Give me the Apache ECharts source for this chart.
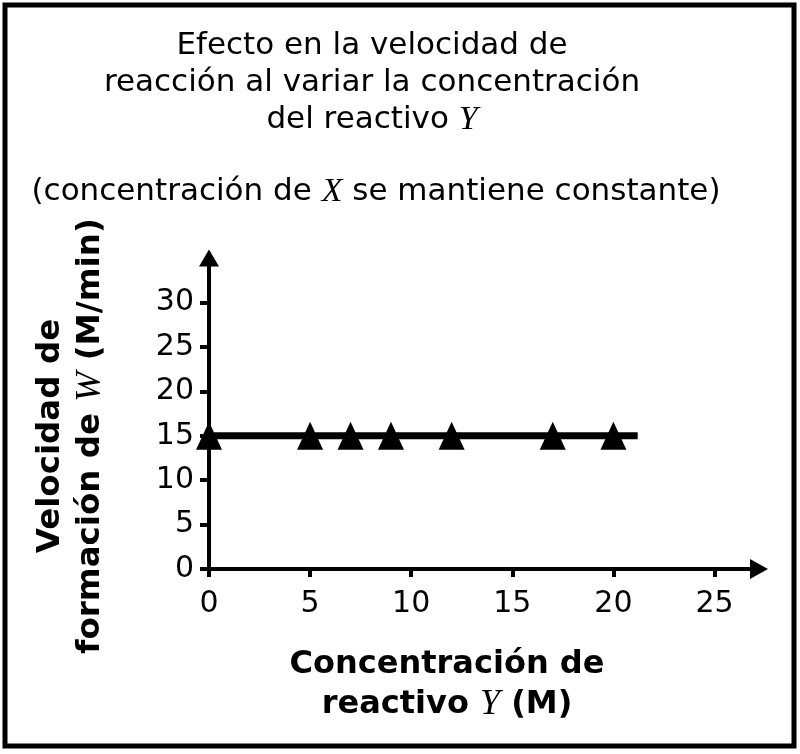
<!DOCTYPE html>
<html>
<head>
<meta charset="utf-8">
<script src="https://cdn.jsdelivr.net/npm/echarts@6/dist/echarts.min.js"></script>
<style>
  html, body { margin: 0; padding: 0; background: #fff; }
  #chart { width: 800px; height: 754px; }
</style>
</head>
<body>
<div id="chart"></div>
<script>
// datos
var lineX = [0, 21.2];
var lineY = [15, 15];
var pointsX = [0, 5, 7, 9, 12, 17, 20];
var pointsY = [15, 15, 15, 15, 15, 15, 15];
var xTicks = [0, 5, 10, 15, 20, 25];
var yTicks = [0, 5, 10, 15, 20, 25, 30];

var font = 'DejaVu Sans';
var italic = { fontFamily: 'Liberation Serif', fontStyle: 'italic', fontSize: 34 };
var italicBold = { fontFamily: 'Liberation Serif', fontStyle: 'italic', fontSize: 36 };

var myChart = echarts.init(document.getElementById('chart'));

option = {
    backgroundColor: '#fff',
    animation: false,
    grid: {
        left: 209,
        right: 41,
        top: 258,
        bottom: 185
    },
    xAxis: {
        type: 'value',
        min: 0,
        max: 27.2,
        splitLine: { show: false },
        axisLine: {
            show: true,
            symbol: ['none', 'triangle'],
            symbolSize: [20, 18],
            lineStyle: { color: '#000', width: 4 }
        },
        axisTick: {
            show: true,
            customValues: xTicks,
            length: 8,
            lineStyle: { color: '#000', width: 4 }
        },
        axisLabel: {
            customValues: xTicks,
            margin: 20,
            color: '#000',
            fontFamily: font,
            fontSize: 30
        }
    },
    yAxis: {
        type: 'value',
        min: 0,
        max: 35,
        splitLine: { show: false },
        axisLine: {
            show: true,
            symbol: ['none', 'triangle'],
            symbolSize: [20, 17],
            lineStyle: { color: '#000', width: 4 }
        },
        axisTick: {
            show: true,
            customValues: yTicks,
            length: 9,
            lineStyle: { color: '#000', width: 4 }
        },
        axisLabel: {
            customValues: yTicks,
            margin: 15,
            color: '#000',
            fontFamily: font,
            fontSize: 30
        }
    },
    series: [
        {
            type: 'line',
            data: lineX.map(function (x, i) { return [x, lineY[i]]; }),
            symbol: 'none',
            clip: false,
            lineStyle: { color: '#000', width: 7 },
            z: 3
        },
        {
            type: 'scatter',
            data: pointsX.map(function (x, i) { return [x, pointsY[i]]; }),
            symbol: 'triangle',
            symbolSize: [26, 28],
            clip: false,
            itemStyle: { color: '#000', opacity: 1 },
            z: 4
        }
    ],
    graphic: [
        {
            type: 'rect',
            shape: { x: 5, y: 5, width: 789, height: 741 },
            style: { fill: 'none', stroke: '#000', lineWidth: 5 },
            silent: true
        },
        {
            type: 'text',
            x: 372,
            y: 83,
            style: {
                text: 'Efecto en la velocidad de\nreacción al variar la concentración\ndel reactivo {i|Y}',
                align: 'center',
                verticalAlign: 'middle',
                fontFamily: font,
                fontSize: 31,
                lineHeight: 37,
                fill: '#000',
                rich: { i: italic }
            }
        },
        {
            type: 'text',
            x: 376,
            y: 192,
            style: {
                text: '(concentración de {i|X} se mantiene constante)',
                align: 'center',
                verticalAlign: 'middle',
                fontFamily: font,
                fontSize: 31,
                lineHeight: 37,
                fill: '#000',
                rich: { i: italic }
            }
        },
        {
            type: 'text',
            x: 447,
            y: 685,
            style: {
                text: 'Concentración de\nreactivo {i|Y} (M)',
                align: 'center',
                verticalAlign: 'middle',
                fontFamily: font,
                fontWeight: 'bold',
                fontSize: 32,
                lineHeight: 40,
                fill: '#000',
                rich: { i: italicBold }
            }
        },
        {
            type: 'text',
            x: 71,
            y: 436,
            rotation: Math.PI / 2,
            style: {
                text: 'Velocidad de\nformación de {i|W} (M/min)',
                align: 'center',
                verticalAlign: 'middle',
                fontFamily: font,
                fontWeight: 'bold',
                fontSize: 32.5,
                lineHeight: 40,
                fill: '#000',
                rich: { i: italicBold }
            }
        }
    ]
};

myChart.setOption(option);
</script>
</body>
</html>
